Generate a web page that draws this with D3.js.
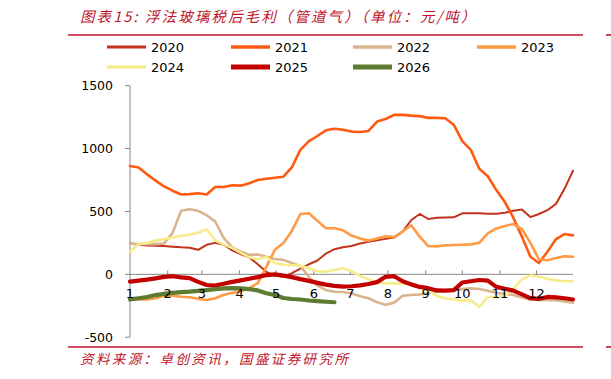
<!DOCTYPE html>
<html>
<head>
<meta charset="UTF-8" />
<title>浮法玻璃税后毛利</title>
<style>
	html, body { margin: 0; padding: 0; background: #fff; overflow: hidden; }
	text { font-family: "DejaVu Sans", Verdana, sans-serif; }
	.cn { font-family: "Noto Sans CJK SC", sans-serif; font-style: italic; fill: #c0142c; }
</style>
<script src="https://d3js.org/d3.v7.min.js"></script>
</head>
<body>
<svg width="611" height="379"></svg>
<script>
// weekly values (day 0, 7, 14, ...), 元/吨
const y2020 = [247,235,230,228,225,220,215,212,195,235,250,235,190,160,135,80,20,-10,-20,10,45,80,110,165,200,215,225,245,258,270,282,292,340,430,480,440,450,452,453,485,485,485,482,482,490,505,515,455,480,510,560,680,824];
const y2021 = [861,850,795,745,700,665,635,638,645,635,695,695,708,705,725,750,760,768,776,850,990,1060,1100,1145,1158,1150,1135,1132,1140,1215,1235,1268,1268,1262,1258,1244,1244,1241,1190,1060,990,840,780,670,575,450,300,140,90,180,280,320,310];
const y2022 = [245,240,240,240,245,330,505,517,505,470,420,290,215,180,155,158,140,122,115,90,65,-20,-90,-125,-138,-140,-150,-175,-190,-222,-242,-225,-170,-165,-160,-150,-140,-130,-125,-118,-112,-117,-130,-148,-155,-165,-185,-200,-204,-204,-206,-215,-226];
const y2023 = [-200,-200,-200,-190,-168,-170,-178,-182,-195,-204,-190,-162,-148,-135,-110,-70,60,195,250,345,480,485,425,366,366,350,308,285,268,285,302,296,340,390,300,225,222,230,233,235,238,250,325,365,385,400,360,250,120,112,130,143,140];
const y2024 = [180,240,250,268,280,292,307,316,330,358,270,236,210,170,135,120,138,90,76,72,68,50,25,21,35,48,25,-12,-40,-62,-72,-72,-75,-82,-98,-130,-170,-190,-200,-210,-205,-260,-180,-180,-170,-115,-40,-8,-20,-35,-48,-55,-55];
const y2025 = [-58,-50,-42,-32,-20,-15,-24,-30,-60,-85,-90,-75,-60,-48,-35,-22,-6,0,-10,-22,-38,-52,-68,-82,-92,-98,-95,-88,-77,-62,-20,-15,-55,-80,-100,-110,-128,-130,-126,-65,-55,-45,-50,-100,-115,-130,-160,-190,-195,-180,-183,-190,-200];
const y2026 = [-199,-190,-180,-165,-155,-148,-142,-138,-132,-125,-118,-112,-110,-112,-118,-128,-150,-165,-188,-196,-200,-208,-213,-218,-222];

const years = ['2020','2021','2022','2023','2024','2025','2026'];
const monthLabels = ['1','2','3','4','5','6','7','8','9','10','11','12'];
const monthStartDays = [0,31,59,90,120,151,181,212,243,273,304,334];
const yTicks = [-500,0,500,1000,1500];

const series = [
	{ name: years[0], values: y2020, color: '#c3321a', width: 2 },
	{ name: years[1], values: y2021, color: '#ff5a10', width: 2.6 },
	{ name: years[2], values: y2022, color: '#d8b58f', width: 2.6 },
	{ name: years[3], values: y2023, color: '#ff9a45', width: 2.6 },
	{ name: years[4], values: y2024, color: '#f6ec8c', width: 2.6 },
	{ name: years[5], values: y2025, color: '#c30000', width: 4.2 },
	{ name: years[6], values: y2026, color: '#5f7a31', width: 4.2 }
];

const svg = d3.select('svg');

const x = d3.scaleLinear().domain([0, 364]).range([130, 573]);
const y = d3.scaleLinear().domain([-500, 1500]).range([337.2, 85.7]);

// title and frame lines
svg.append('text').attr('class', 'cn')
	.attr('x', 80).attr('y', 22)
	.attr('font-size', 14.5)
	.attr('letter-spacing', 2.1)
	.text('图表15:  浮法玻璃税后毛利（管道气）（单位：元/吨）');
svg.append('line').attr('x1', 68).attr('x2', 583).attr('y1', 35).attr('y2', 35)
	.attr('stroke', '#c0142c').attr('stroke-width', 1.6);
svg.append('line').attr('x1', 606).attr('x2', 611).attr('y1', 35).attr('y2', 35)
	.attr('stroke', '#c0142c').attr('stroke-width', 1.6);
svg.append('line').attr('x1', 68).attr('x2', 583).attr('y1', 347).attr('y2', 347)
	.attr('stroke', '#c0142c').attr('stroke-width', 1.6);
svg.append('line').attr('x1', 606).attr('x2', 611).attr('y1', 347).attr('y2', 347)
	.attr('stroke', '#c0142c').attr('stroke-width', 1.6);
svg.append('text').attr('class', 'cn')
	.attr('x', 80).attr('y', 364)
	.attr('font-size', 13.5)
	.attr('letter-spacing', 2.4)
	.text('资料来源：卓创资讯，国盛证券研究所');

// legend
const legendPos = [[107, 47], [231, 47], [353, 47], [477, 47], [107, 67], [231, 67], [353, 67]];
const legend = svg.append('g').selectAll('g').data(series).enter().append('g')
	.attr('transform', (d, i) => `translate(${legendPos[i][0]},${legendPos[i][1]})`);
legend.append('line')
	.attr('x1', 0).attr('x2', 39).attr('y1', 0).attr('y2', 0)
	.attr('stroke', d => d.color)
	.attr('stroke-width', d => d.width + 1);
legend.append('text')
	.attr('x', 44).attr('dy', '0.36em')
	.attr('font-size', 13).attr('fill', '#000')
	.text(d => d.name);

// y axis
const yAxis = svg.append('g');
yAxis.append('line').attr('x1', 130).attr('x2', 130)
	.attr('y1', y(1500)).attr('y2', y(-500))
	.attr('stroke', '#868686');
yAxis.selectAll('.tk').data(yTicks).enter().append('line')
	.attr('x1', 125).attr('x2', 130)
	.attr('y1', d => y(d)).attr('y2', d => y(d))
	.attr('stroke', '#868686');
yAxis.selectAll('text').data(yTicks).enter().append('text')
	.attr('x', 113).attr('y', d => y(d)).attr('dy', '0.36em')
	.attr('text-anchor', 'end').attr('font-size', 12.5).attr('fill', '#000')
	.text(d => d);

// x axis at zero
const xAxis = svg.append('g');
xAxis.append('line').attr('x1', 130).attr('x2', 573)
	.attr('y1', y(0)).attr('y2', y(0))
	.attr('stroke', '#868686');
xAxis.selectAll('line.tk').data(monthStartDays.slice(1)).enter().append('line')
	.attr('class', 'tk')
	.attr('x1', d => x(d)).attr('x2', d => x(d))
	.attr('y1', y(0) - 4).attr('y2', y(0))
	.attr('stroke', '#868686');

// lines
const line = d3.line()
	.x((d, i) => x(i * 7))
	.y(d => y(d));

svg.append('g').selectAll('path').data(series).enter().append('path')
	.attr('d', d => line(d.values))
	.attr('fill', 'none')
	.attr('stroke', d => d.color)
	.attr('stroke-width', d => d.width)
	.attr('stroke-linejoin', 'round')
	.attr('stroke-linecap', 'round');

// month labels on top
svg.append('g').selectAll('text').data(monthLabels).enter().append('text')
	.attr('x', (d, i) => x(monthStartDays[i]))
	.attr('y', 298)
	.attr('text-anchor', 'middle')
	.attr('font-size', 13).attr('fill', '#000')
	.text(d => d);
</script>
</body>
</html>
